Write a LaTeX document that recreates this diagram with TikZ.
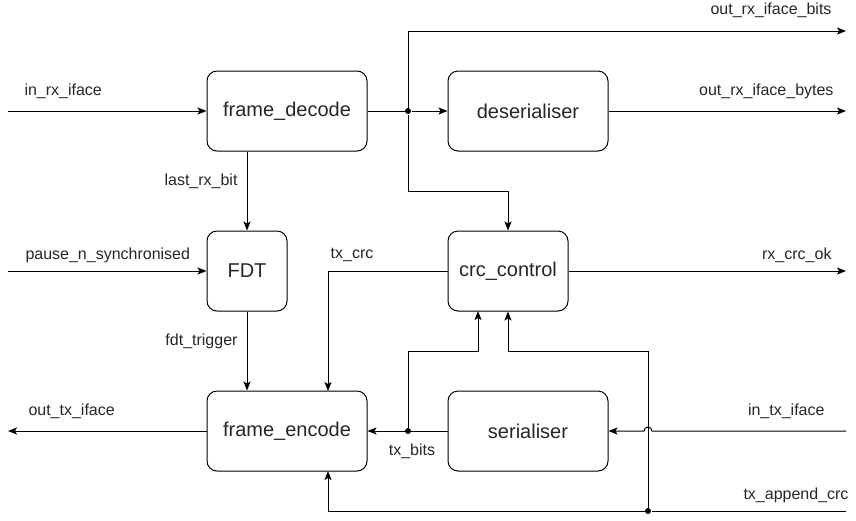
\documentclass[tikz,border=0pt]{standalone}
\usepackage{fontspec}
\setmainfont{Liberation Sans}
\usetikzlibrary{arrows.meta}

\tikzset{
  block/.style={draw, rounded corners=10pt, minimum height=80pt, inner sep=0pt, text=black!85, font=\fontsize{20}{22}\selectfont},
  signal/.style={inner sep=0pt, text=black!85, font=\fontsize{16}{18}\selectfont},
  wire/.style={-{Stealth[length=9pt, width=7pt, inset=2pt]}},
  joint/.style={circle, fill, inner sep=0pt, minimum size=6pt},
}

\begin{document}
\begin{tikzpicture}[x=1pt, y=-1pt, line width=1pt]
        \useasboundingbox (0,0) rectangle (856,520);

        % Bloecke
        \node [block, minimum width=160pt] (decode) at (287,111) {frame\_decode};
        \node [block, minimum width=160pt] (deser) at (528,111) {deserialiser};
        \node [block, minimum width=80pt] (fdt) at (247,271) {FDT};
        \node [block, minimum width=120pt] (crc) at (508,271) {crc\_control};
        \node [block, minimum width=160pt] (encode) at (287,431) {frame\_encode};
        \node [block, minimum width=160pt] (ser) at (528,431) {serialiser};

        % freie Enden
        \coordinate (rxin) at (8,111);
        \coordinate (bitsout) at (846,31);
        \coordinate (bytesout) at (846,111);
        \coordinate (pausein) at (8,271);
        \coordinate (crcok) at (846,271);
        \coordinate (txout) at (8,431);
        \coordinate (txin) at (846,431);
        \coordinate (appendin) at (846,511);

        % Verzweigungen
        \node [joint] (rxjoin) at (408,111) {};
        \node [joint] (txjoin) at (408,431) {};
        \node [joint] (appendjoin) at (648,511) {};

        % Empfangsseite
        \draw [wire] (rxin) -- (decode);
        \draw (decode) -- (rxjoin);
        \draw [wire] (rxjoin) -- (deser);
        \draw [wire] (rxjoin) |- (bitsout);
        \draw [wire] (rxjoin) |- (508,191) -- (crc.north);
        \draw [wire] (deser) -- (bytesout);
        \draw [wire] (decode.south -| fdt) -- (fdt);
        \draw [wire] (pausein) -- (fdt);

        % CRC
        \draw [wire] (crc.west) -| (328,391);
        \draw [wire] (crc) -- (crcok);
        \draw [wire] (fdt) -- (encode.north -| fdt);

        % Sendeseite
        \draw [wire] (encode) -- (txout);
        \draw [wire] (ser) -- (encode);
        \draw [wire] (txjoin) |- (478,351) -- (478,311);
        \draw [wire] (appendjoin) |- (508,351) -- (crc.south);
        \draw [wire] (txin) -- (652,431) arc[start angle=0, end angle=180, radius=4pt] -- (ser.east);
        \draw [wire] (appendin) -- (appendjoin) -| (328,471);

        % Signalnamen
        \node [signal, anchor=west] (lrxin) at (24,91) {in\_rx\_iface};
        \node [signal, anchor=east] (lbits) at (832,10) {out\_rx\_iface\_bits};
        \node [signal, anchor=east] (lbytes) at (834,91) {out\_rx\_iface\_bytes};
        \node [signal, anchor=east] (llast) at (238,181) {last\_rx\_bit};
        \node [signal, anchor=west] (lpause) at (25,255) {pause\_n\_synchronised};
        \node [signal] (ltxcrc) at (352,255) {tx\_crc};
        \node [signal, anchor=east] (lcrcok) at (832,255) {rx\_crc\_ok};
        \node [signal, anchor=east] (lfdt) at (238,341) {fdt\_trigger};
        \node [signal, anchor=west] (ltxout) at (28,411) {out\_tx\_iface};
        \node [signal] (ltxbits) at (412,451) {tx\_bits};
        \node [signal, anchor=east] (ltxin) at (825,411) {in\_tx\_iface};
        \node [signal, anchor=east] (lappend) at (849,495) {tx\_append\_crc};
\end{tikzpicture}
\end{document}
